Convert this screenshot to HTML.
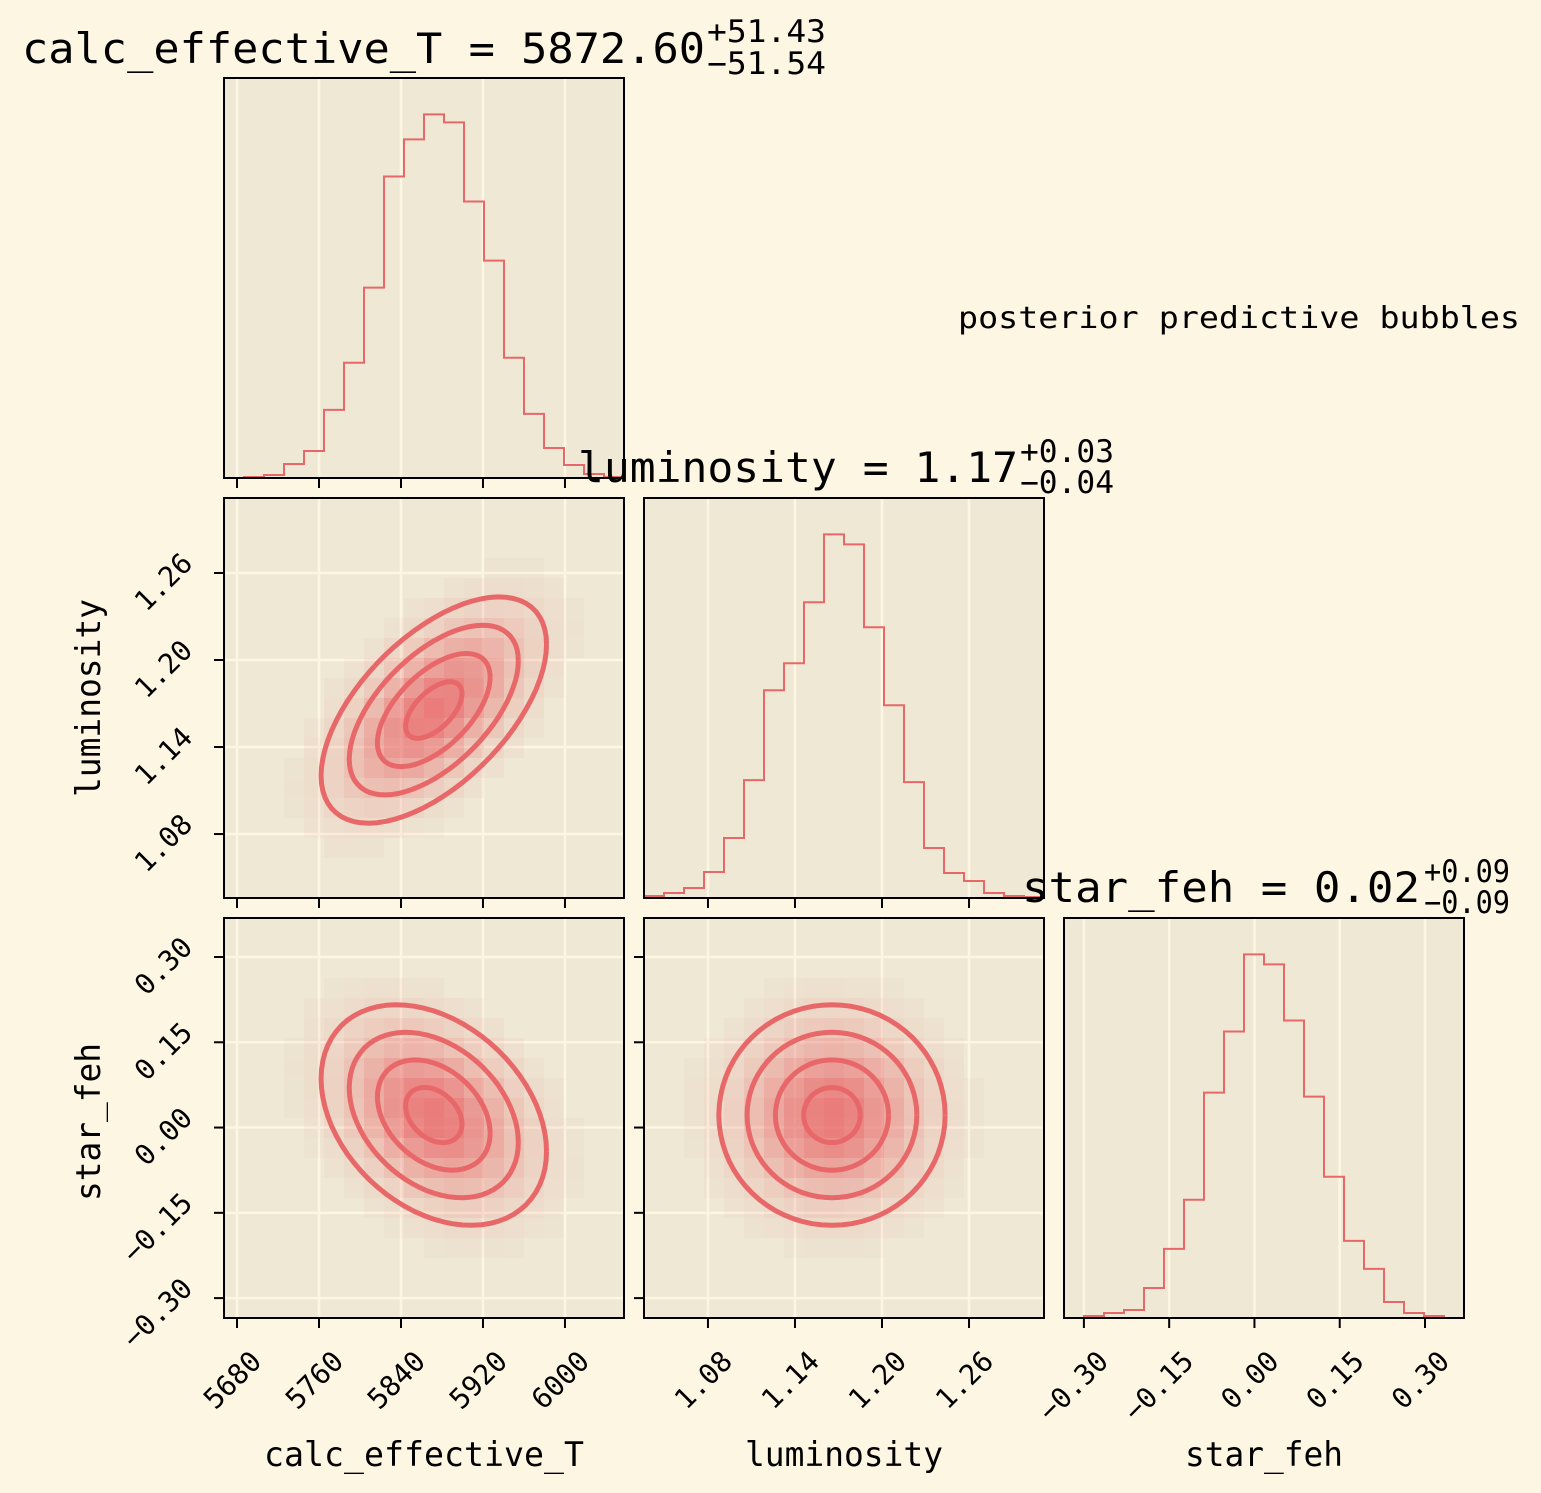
<!DOCTYPE html>
<html><head><meta charset="utf-8"><style>
body{margin:0;background:#fdf6e3;}
svg{display:block;font-family:"DejaVu Sans Mono","Liberation Mono",monospace;}
</style></head><body>
<svg id="fig" width="1541" height="1493" viewBox="0 0 1541 1493" xmlns="http://www.w3.org/2000/svg">
<rect width="1541" height="1493" fill="#fdf6e3"/>
</svg>
<script>
// ---- data ----
const tHist = [0,1,3,14,27,68,115,190,301,338,363,355,276,217,120,64,30,13,4,1];
const lHist = [2,5,10,26,60,118,208,235,296,364,354,271,193,116,50,25,17,5,2,1];
const fHist = [0,2,5,8,30,69,118,225,286,363,353,297,221,141,77,49,16,5,2,0];
const tTicks = [5680,5760,5840,5920,6000];
const lTicks = [1.08,1.14,1.20,1.26];
const fTicks = [0.30,0.15,0.00,-0.15,-0.30];
const tTickLabels = ["5680","5760","5840","5920","6000"];
const lTickLabels = ["1.08","1.14","1.20","1.26"];
const fTickLabels = ["0.30","0.15","0.00","\u22120.15","\u22120.30"];
const means = [5872, 1.1655, 0.022];
const sds = [55, 0.039, 0.097];
const corrTL = 0.58, corrTF = -0.33, corrLF = 0.0;
const levels = [0.5,1,1.5,2];

const NS="http://www.w3.org/2000/svg";
const fig=document.getElementById('fig');
const C="#e8686a";
function el(tag,attrs,parent){const e=document.createElementNS(NS,tag);for(const k in attrs)e.setAttribute(k,attrs[k]);(parent||fig).appendChild(e);return e;}

const ranges=[[5667.3,6057.6],[1.0359,1.3117],[-0.335,0.3686]];
const colX=[224,644,1064], rowY=[78,498,918], S=400;
const ticksArr=[tTicks,lTicks,fTicks], tickLab=[tTickLabels,lTickLabels,fTickLabels];
function sx(v,i,col){const r=ranges[i];return colX[col]+(v-r[0])/(r[1]-r[0])*S;}
function sy(v,i,row){const r=ranges[i];return rowY[row]+S-(v-r[0])/(r[1]-r[0])*S;}

function panel(row,col,name){
  const g=el('g',{});
  
  
  el('rect',{x:colX[col],y:rowY[row],width:S,height:S,fill:'#eee8d5'},g);
  return g;
}
function grid(g,row,col,xi,yi){
  if(xi!==null) ticksArr[xi].forEach(v=>{const x=sx(v,xi,col);el('line',{x1:x,x2:x,y1:rowY[row],y2:rowY[row]+S,stroke:'#fdf6e3','stroke-width':2.5},g);});
  if(yi!==null) ticksArr[yi].forEach(v=>{const y=sy(v,yi,row);el('line',{x1:colX[col],x2:colX[col]+S,y1:y,y2:y,stroke:'#fdf6e3','stroke-width':2.5},g);});
}
function frame(g,row,col,xi,yi,showX,showY,yticks){
  el('rect',{x:colX[col],y:rowY[row],width:S,height:S,fill:'none',stroke:'#000','stroke-width':2},g);
  ticksArr[xi].forEach((v,k)=>{const x=sx(v,xi,col);el('line',{x1:x,x2:x,y1:rowY[row]+S,y2:rowY[row]+S+10,stroke:'#000','stroke-width':2},g);
    if(showX){const px=x+26,py=rowY[row]+S+45;const t=el('text',{x:px,y:py,'font-size':28,'text-anchor':'end',transform:`rotate(-45 ${px} ${py})`},g);t.textContent=tickLab[xi][k];
      }});
  if(yticks) ticksArr[yi].forEach((v,k)=>{const y=sy(v,yi,row);el('line',{x1:colX[col]-10,x2:colX[col],y1:y,y2:y,stroke:'#000','stroke-width':2},g);
    if(showY){const px=colX[col]-30,py=y-8;const t=el('text',{x:px,y:py,'font-size':28,'text-anchor':'end',transform:`rotate(-45 ${px} ${py})`},g);t.textContent=tickLab[yi][k];
      }});
}
function hist(g,row,col,counts,name){
  const mx=Math.max(...counts)*1.1, n=counts.length, w=S/n;
  let d=`M${colX[col]} ${rowY[row]+S}`;
  counts.forEach((c,i)=>{const y=rowY[row]+S-c/mx*S;d+=` L${colX[col]+i*w} ${y} L${colX[col]+(i+1)*w} ${y}`;});
  const p=el('path',{d:d,fill:'none',stroke:C,'stroke-width':2},g);
  
}
function density(g,row,col,xi,yi,rho){
  const mx=means[xi],my=means[yi],ax=sds[xi],ay=sds[yi];
  const rx=ranges[xi],ry=ranges[yi],N=20;
  const dx=(rx[1]-rx[0])/N,dy=(ry[1]-ry[0])/N;
  for(let i=0;i<N;i++)for(let j=0;j<N;j++){
    const vx=rx[0]+(i+0.5)*dx,vy=ry[0]+(j+0.5)*dy;
    const zx=(vx-mx)/ax,zy=(vy-my)/ay;
    const q=(zx*zx-2*rho*zx*zy+zy*zy)/(1-rho*rho);
    const a=Math.exp(-q/2)*0.85;
    if(a<0.03)continue;
    const r=el('rect',{x:colX[col]+i*S/N,y:rowY[row]+S-(j+1)*S/N,width:S/N,height:S/N,fill:C,opacity:a.toFixed(3)},g);
    
  }
  levels.forEach(L=>{
    let pts=[];
    for(let k=0;k<=72;k++){const t=k/72*2*Math.PI;
      const vx=mx+L*ax*Math.cos(t),vy=my+L*ay*(rho*Math.cos(t)+Math.sqrt(1-rho*rho)*Math.sin(t));
      pts.push(sx(vx,xi,col).toFixed(1)+','+sy(vy,yi,row).toFixed(1));}
    const p=el('polyline',{points:pts.join(' '),fill:'none',stroke:C,'stroke-width':5,'stroke-linejoin':'round'},g);
    
  });
}
let g=panel(0,0,'hist-calc-effective-T');grid(g,0,0,0,null);hist(g,0,0,tHist,'hist-line-T');frame(g,0,0,0,null,false,false,false);
g=panel(1,0,'scatter-T-vs-luminosity');grid(g,1,0,0,1);density(g,1,0,0,1,corrTL);frame(g,1,0,0,1,false,true,true);
g=panel(1,1,'hist-luminosity');grid(g,1,1,1,null);hist(g,1,1,lHist,'hist-line-luminosity');frame(g,1,1,1,null,false,false,false);
g=panel(2,0,'scatter-T-vs-feh');grid(g,2,0,0,2);density(g,2,0,0,2,corrTF);frame(g,2,0,0,2,true,true,true);
g=panel(2,1,'scatter-luminosity-vs-feh');grid(g,2,1,1,2);density(g,2,1,1,2,corrLF);frame(g,2,1,1,2,true,false,true);
g=panel(2,2,'hist-star-feh');grid(g,2,2,2,null);hist(g,2,2,fHist,'hist-line-feh');frame(g,2,2,2,null,true,false,false);

function txt(x,y,s,size,name,opts){const t=el('text',Object.assign({x:x,y:y,'font-size':size},opts||{}));t.textContent=s;
  return t;}
txt(22,63,'calc_effective_T = 5872.60',42,'title-T',{textLength:683,lengthAdjust:'spacingAndGlyphs'});
txt(707,42,'+51.43',31,'title-T-plus',{textLength:119,lengthAdjust:'spacingAndGlyphs'});
txt(707,74,'\u221251.54',31,'title-T-minus',{textLength:119,lengthAdjust:'spacingAndGlyphs'});
txt(578,482,'luminosity = 1.17',42,'title-luminosity',{textLength:440,lengthAdjust:'spacingAndGlyphs'});
txt(1020,462,'+0.03',31,'title-lum-plus',{textLength:94,lengthAdjust:'spacingAndGlyphs'});
txt(1020,493,'\u22120.04',31,'title-lum-minus',{textLength:94,lengthAdjust:'spacingAndGlyphs'});
txt(1022,902,'star_feh = 0.02',42,'title-feh',{textLength:398,lengthAdjust:'spacingAndGlyphs'});
txt(1424,882,'+0.09',31,'title-feh-plus',{textLength:86,lengthAdjust:'spacingAndGlyphs'});
txt(1424,913,'\u22120.09',31,'title-feh-minus',{textLength:86,lengthAdjust:'spacingAndGlyphs'});
txt(958,328,'posterior predictive bubbles',30,'annotation-text',{textLength:562,lengthAdjust:'spacingAndGlyphs'});
txt(264,1466,'calc_effective_T',34,'x-axis-title-T',{textLength:320,lengthAdjust:'spacingAndGlyphs'});
txt(745,1466,'luminosity',34,'x-axis-title-luminosity',{textLength:198,lengthAdjust:'spacingAndGlyphs'});
txt(1185,1466,'star_feh',34,'x-axis-title-feh',{textLength:158,lengthAdjust:'spacingAndGlyphs'});
txt(100,698,'luminosity',34,'y-axis-title-luminosity',{'text-anchor':'middle',transform:'rotate(-90 100 698)',textLength:198,lengthAdjust:'spacingAndGlyphs'});
txt(100,1122,'star_feh',34,'y-axis-title-feh',{'text-anchor':'middle',transform:'rotate(-90 100 1122)',textLength:158,lengthAdjust:'spacingAndGlyphs'});
</script>
</body></html>
